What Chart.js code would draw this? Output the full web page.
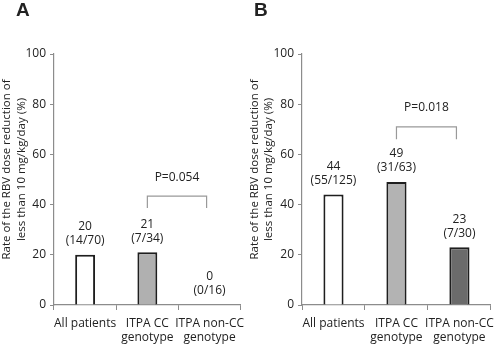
<!DOCTYPE html>
<html>
<head>
<meta charset="utf-8">
<script src="https://cdn.jsdelivr.net/npm/chart.js@4/dist/chart.umd.min.js"></script>
<style>
  html, body { margin: 0; padding: 0; background: #fff; }
  #wrap { width: 500px; height: 345px; display: flex; }
  .panel { width: 250px; height: 345px; position: relative; }
</style>
</head>
<body>
<div id="wrap">
  <div class="panel"><canvas id="chartA"></canvas></div>
  <div class="panel"><canvas id="chartB"></canvas></div>
</div>
<script>
// data
const categories = ['All patients', ['ITPA CC', 'genotype'], ['ITPA non-CC', 'genotype']];
const yTicks = [0, 20, 40, 60, 80, 100];

const valuesA = [20, 21, 0];
const fractionsA = ['(14/70)', '(7/34)', '(0/16)'];
const pTextA = 'P=0.054';
const bracketA = { top: 43.4, bottom: 38.6, label: 50.6 };

const valuesB = [44, 49, 23];
const fractionsB = ['(55/125)', '(31/63)', '(7/30)'];
const pTextB = 'P=0.018';
const bracketB = { top: 71, bottom: 66, label: 78.5 };

const fillsA = ['#ffffff', '#b0b0b0', '#b0b0b0'];
const fillsB = ['#ffffff', '#b3b3b3', '#6b6b6b'];

const font = '"Open Sans", "Liberation Sans", sans-serif';
const textColor = '#222';
const axisColor = '#8c8c8c';

// value labels, p-value bracket, panel letter and y title
const annotate = {
    id: 'annotate',
    afterDatasetsDraw(chart, args, opts) {
        const ctx = chart.ctx;
        const x = chart.scales.x;
        const y = chart.scales.y;
        const vals = chart.data.datasets[0].data;

        ctx.save();
        ctx.fillStyle = textColor;
        ctx.textAlign = 'center';
        ctx.textBaseline = 'middle';
        ctx.font = '12px ' + font;
        vals.forEach((v, i) => {
            const cx = x.getPixelForValue(i);
            const top = y.getPixelForValue(v);
            ctx.fillText(String(v), cx, top - 28);
            ctx.fillText(opts.fractions[i], cx, top - 14);
        });

        // bracket between 2nd and 3rd bar
        const x1 = x.getPixelForValue(1);
        const x2 = x.getPixelForValue(2) - 3;
        const yt = y.getPixelForValue(opts.bracket.top);
        const yb = y.getPixelForValue(opts.bracket.bottom);
        ctx.strokeStyle = '#999';
        ctx.lineWidth = 1.2;
        ctx.beginPath();
        ctx.moveTo(x1, yb);
        ctx.lineTo(x1, yt);
        ctx.lineTo(x2, yt);
        ctx.lineTo(x2, yb);
        ctx.stroke();
        ctx.fillText(opts.pText, (x1 + x2) / 2, y.getPixelForValue(opts.bracket.label));

        // panel letter
        ctx.textAlign = 'left';
        ctx.font = 'bold 19px "Liberation Sans", Arial, sans-serif';
        ctx.fillText(opts.letter, opts.letterX, 11);

        // y axis title
        ctx.font = '11.5px ' + font;
        ctx.textAlign = 'center';
        const midY = (y.top + y.bottom) / 2 - 10;
        ctx.translate(0, midY);
        ctx.rotate(-Math.PI / 2);
        ctx.fillText('Rate of the RBV dose reduction of', 0, opts.titleX);
        ctx.fillText('less than 10 mg/kg/day (%)', 0, opts.titleX + 14.5);
        ctx.restore();
    }
};

function makeChart(id, values, fills, fractions, pText, bracket, letter, letterX, axisW, titleX, rightPad) {
    return new Chart(document.getElementById(id), {
        type: 'bar',
        data: {
            labels: categories,
            datasets: [{
                data: values,
                backgroundColor: fills,
                borderColor: '#1e1e1e',
                borderWidth: 2,
                borderSkipped: 'bottom',
                categoryPercentage: 1,
                barPercentage: 0.32
            }]
        },
        options: {
            responsive: true,
            maintainAspectRatio: false,
            animation: false,
            layout: { padding: { top: 54, right: rightPad, left: 0, bottom: 0 } },
            plugins: {
                legend: { display: false },
                tooltip: { enabled: false },
                annotate: { fractions, pText, bracket, letter, letterX, titleX }
            },
            scales: {
                x: {
                    grid: { drawOnChartArea: false, drawTicks: true, tickLength: 5, color: axisColor, offset: true },
                    border: { color: axisColor, width: 1.2 },
                    ticks: { color: textColor, font: { family: font, size: 12, lineHeight: 1.2 }, padding: 6, maxRotation: 0, autoSkip: false },
                    afterFit(scale) { scale.height = 40; }
                },
                y: {
                    min: 0,
                    max: 100,
                    afterBuildTicks(scale) { scale.ticks = yTicks.map(v => ({ value: v })); },
                    grid: { drawOnChartArea: false, drawTicks: true, tickLength: 4, color: axisColor },
                    border: { color: axisColor, width: 1.2 },
                    ticks: { color: textColor, font: { family: font, size: 12 }, padding: 4 },
                    afterFit(scale) { scale.width = axisW; }
                }
            }
        },
        plugins: [annotate]
    });
}

makeChart('chartA', valuesA, fillsA, fractionsA, pTextA, bracketA, 'A', 16, 54, 7, 0);
makeChart('chartB', valuesB, fillsB, fractionsB, pTextB, bracketB, 'B', 4, 52, 4.5, 1);
</script>
</body>
</html>
